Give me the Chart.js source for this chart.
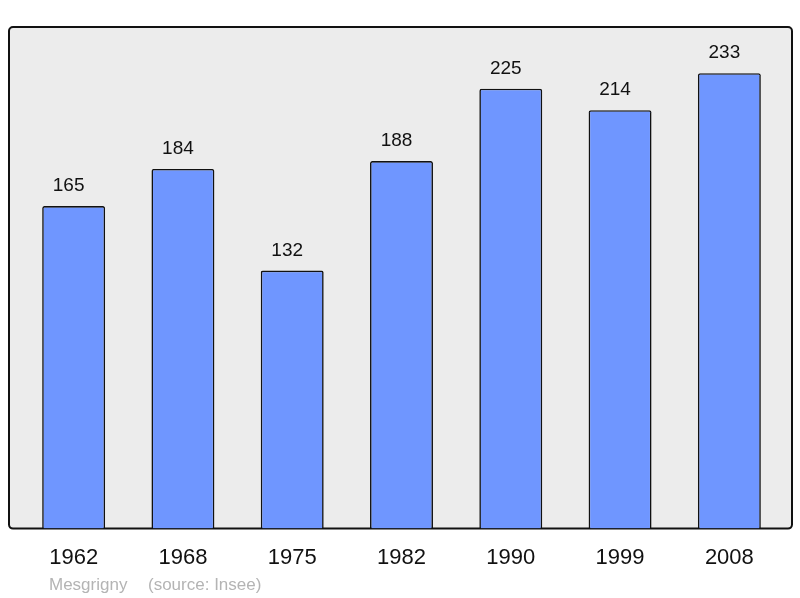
<!DOCTYPE html>
<html>
<head>
<meta charset="utf-8">
<script src="https://cdn.jsdelivr.net/npm/chart.js@4/dist/chart.umd.min.js"></script>
<style>
  html, body { margin: 0; padding: 0; background: #fff; }
  #wrap { width: 800px; height: 598px; }
</style>
</head>
<body>
<div id="wrap"><canvas id="popChart"></canvas></div>
<script>
// population figures
var years = ["1962", "1968", "1975", "1982", "1990", "1999", "2008"];
var population = [165, 184, 132, 188, 225, 214, 233];
var commune = "Mesgrigny";
var source = "(source: Insee)";

// grey framed box behind the bars
var frameBox = {
  id: 'frameBox',
  beforeDraw: function (chart) {
    var a = chart.chartArea, ctx = chart.ctx;
    var x = a.left - 10, y = a.top, w = (a.right + 8) - x, h = a.bottom - y;
    ctx.save();
    ctx.beginPath();
    ctx.roundRect(x, y, w, h, 4);
    ctx.fillStyle = '#ececec';
    ctx.fill();
    ctx.lineWidth = 2;
    ctx.strokeStyle = '#111';
    ctx.stroke();
    ctx.restore();
  }
};

// numbers over bars + footer text
var barValues = {
  id: 'barValues',
  afterDatasetsDraw: function (chart) {
    var ctx = chart.ctx;
    var meta = chart.getDatasetMeta(0);
    ctx.save();
    ctx.font = '19px "Liberation Sans", Arial, sans-serif';
    ctx.fillStyle = '#111';
    ctx.textAlign = 'center';
    ctx.textBaseline = 'alphabetic';
    meta.data.forEach(function (bar, i) {
      // labels sit a little left of bar centre in the original
      ctx.fillText(population[i], bar.x - 5, bar.y - 15);
    });
    ctx.font = '17px "Liberation Sans", Arial, sans-serif';
    ctx.fillStyle = '#b4b4b4';
    ctx.textAlign = 'left';
    ctx.fillText(commune, 49, 590);
    ctx.fillText(source, 148, 590);
    ctx.restore();
  }
};

var ctx = document.getElementById('popChart').getContext('2d');
var popChart = new Chart(ctx, {
  type: 'bar',
  data: {
    labels: years,
    datasets: [{
      data: population,
      backgroundColor: '#6f96ff',
      borderColor: '#111',
      borderWidth: 1.6,
      borderRadius: 2,
      borderSkipped: 'bottom',
      barPercentage: 0.576,
      categoryPercentage: 1
    }]
  },
  options: {
    responsive: true,
    maintainAspectRatio: false,
    animation: false,
    layout: { padding: { left: 19, right: 16, top: 27, bottom: 11 } },
    plugins: {
      legend: { display: false },
      tooltip: { enabled: false }
    },
    scales: {
      x: {
        grid: { display: false, drawTicks: false },
        border: { display: false },
        ticks: {
          color: '#111',
          padding: 16,
          font: { family: '"Liberation Sans", Arial, sans-serif', size: 22 }
        }
      },
      y: {
        display: false,
        min: 0,
        max: 256.6
      }
    }
  },
  plugins: [frameBox, barValues]
});
</script>
</body>
</html>
